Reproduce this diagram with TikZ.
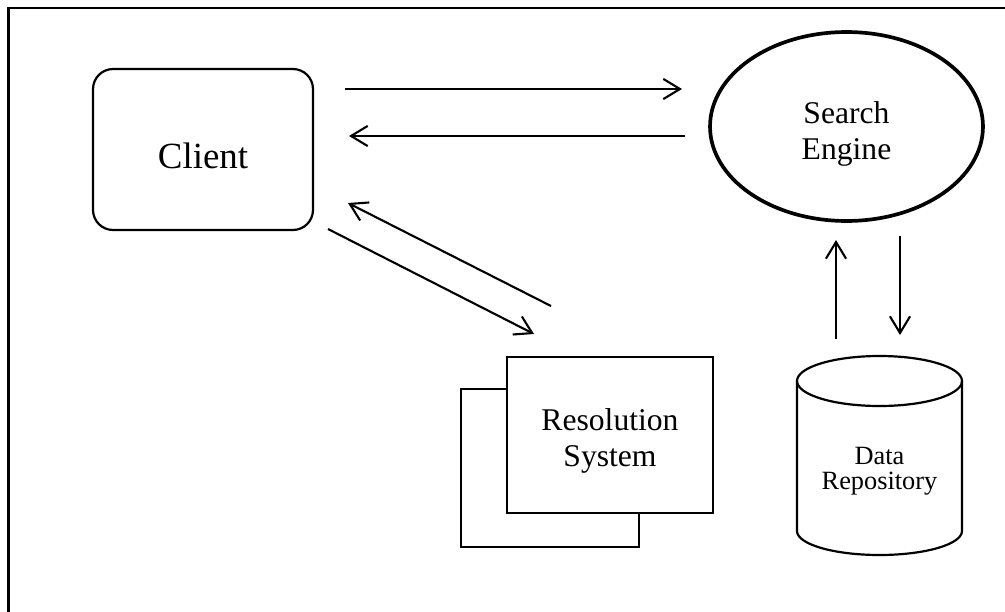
\documentclass[tikz,border=0pt]{standalone}
\usepackage{fontspec}
\setmainfont{Liberation Serif}
\usetikzlibrary{arrows.meta,shapes.geometric}
\tikzset{
  box/.style={draw, line width=1.25pt, rectangle, inner sep=0pt},
  conn/.style={line width=1.2pt, -{Straight Barb[length=9.5pt,width=11.5pt,line width=1.2pt]}},
  bigfont/.style={font=\fontsize{18}{20.7}\selectfont},
}
\begin{document}
\begin{tikzpicture}[x=0.02cm, y=-0.02cm]
\useasboundingbox (0,0) rectangle (1005,612);
\begin{scope}
\clip (0,0) rectangle (1005,612);
\draw[line width=1.5pt] (8.5,640) -- (8.5,8) -- (1040,8);
\end{scope}

% Client
\node[box, rounded corners=0.4cm, minimum width=4.4cm, minimum height=3.22cm,
      label={[font=\fontsize{21}{25}\selectfont, yshift=-0.12cm]center:Client}] (client) at (203,149.5) {};

% Search Engine
\node[draw, ellipse, line width=2.1pt, minimum width=5.46cm, minimum height=3.78cm, inner sep=0pt,
      label={[align=center, bigfont, yshift=-0.15cm]center:Search\\Engine}] (se) at (846.5,126.5) {};

% Resolution System
\node[box, minimum width=3.56cm, minimum height=3.16cm] (rsback) at (550,468) {};
\node[box, fill=white, minimum width=4.12cm, minimum height=3.12cm,
      label={[align=center, bigfont, yshift=-0.12cm]center:Resolution\\System}] (rs) at (610,435) {};

% Data Repository (cylinder)
\draw[line width=1.25pt] (797,381) -- (797,531)
   arc[start angle=180, end angle=0, x radius=82.5, y radius=24] -- (962,381);
\draw[line width=1.25pt] (879.5,381) ellipse [x radius=82.5, y radius=25];
\node[align=center, inner sep=0pt, font=\fontsize{15}{14.2}\selectfont] (dr) at (879.5,471) {Data\\Repository};

% connector end points
\coordinate (a1s) at (345,89);  \coordinate (a1e) at (682,89);
\coordinate (a2s) at (685,136); \coordinate (a2e) at (349,136);
\coordinate (a3s) at (551,306); \coordinate (a3e) at (348,203);
\coordinate (a4s) at (328,229); \coordinate (a4e) at (534,334);
\coordinate (a5s) at (836,339); \coordinate (a5e) at (836,240);
\coordinate (a6s) at (900,236); \coordinate (a6e) at (900,335);

\draw[conn] (a1s) -- (a1e);
\draw[conn] (a2s) -- (a2e);
\draw[conn] (a3s) -- (a3e);
\draw[conn] (a4s) -- (a4e);
\draw[conn] (a5s) -- (a5e);
\draw[conn] (a6s) -- (a6e);
\end{tikzpicture}
\end{document}
